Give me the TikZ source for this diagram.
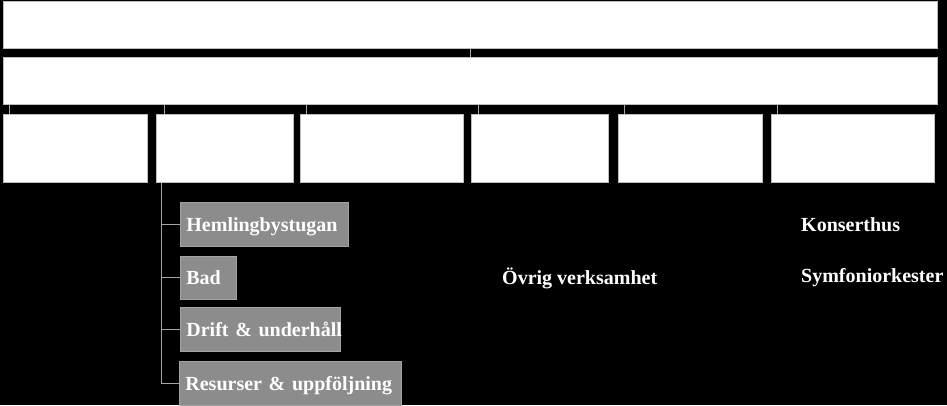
\documentclass[tikz,border=0pt]{standalone}
\usepackage{fontspec}
\setmainfont{Liberation Serif}
\usepackage{tikz}
\usetikzlibrary{arrows.meta, positioning, calc}
\usepackage{xcolor}
\definecolor{boxline}{RGB}{190, 190, 190}
\definecolor{unitgray}{RGB}{140, 140, 140}
\definecolor{linkgray}{RGB}{165, 165, 165}

\begin{document}
\begin{tikzpicture}[
    x=1pt, y=-1pt,
    bar/.style={draw=boxline, fill=white, line width=1pt,
                minimum width=934pt, minimum height=47pt, inner sep=0pt},
    unit/.style={draw=boxline, fill=white, line width=1pt,
                 minimum height=68pt, inner sep=0pt},
    sub/.style={draw=unitgray!80!white, fill=unitgray, line width=0.8pt,
                anchor=west, minimum height=44pt, inner xsep=6pt,
                text height=14pt, text depth=0pt,
                text width=#1, align=left, text=white,
                font=\bfseries\fontsize{20}{24}\selectfont},
    label/.style={anchor=west, inner sep=0pt, text=white,
                  font=\bfseries\fontsize{20}{24}\selectfont},
    link/.style={draw=linkgray, line width=1pt},
  ]
    % background
    \fill[black] (0,0) rectangle (947,405);

    % Top levels
    \node[bar] (top) at (470,24.5) {};
    \node[bar] (mid) at (470,80.5) {};

    % Units
    \node[unit, minimum width=144pt] (u1) at (75,148) {};
    \node[unit, minimum width=137pt] (u2) at (224.5,148) {};
    \node[unit, minimum width=163pt] (u3) at (381.5,148) {};
    \node[unit, minimum width=137pt] (u4) at (539.5,148) {};
    \node[unit, minimum width=144pt] (u5) at (690,148) {};
    \node[unit, minimum width=163pt] (u6) at (852.5,148) {};

    % Links between levels
    \draw[link] (top.south) -- (mid.north);
    \foreach \u/\dx in {u1/7, u2/9, u3/7, u4/8, u5/7, u6/7}
      \draw[link] ([xshift=\dx pt]\u.north west)
        -- ([xshift=\dx pt]\u.north west |- mid.south);

    % Sub units below u2
    \node[sub=156pt] (hem) at (180,224) {\mbox{Hemlingbystugan}};
    \node[sub=44pt, minimum height=43pt] (bad) at (180,277.5) {\mbox{Bad}};
    \node[sub=148pt] (drift) at (180,329) {\mbox{Drift \& underhåll}};
    \node[sub=210pt] (res) at (179,383) {\mbox{Resurser \& uppföljning}};

    \foreach \s in {hem, bad, drift, res}
      \draw[link] ([xshift=6pt]u2.south west) |- (\s.west);

    % Plain labels
    \node[label] (ovrig) at (502,278) {Övrig verksamhet};
    \node[label] (konsert) at (801,225) {Konserthus};
    \node[label] (symf) at (801,278) {Symfoniorkester};
  \end{tikzpicture}
\end{document}
